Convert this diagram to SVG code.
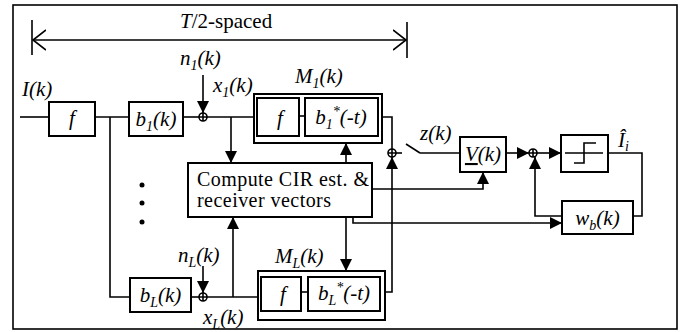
<svg xmlns="http://www.w3.org/2000/svg" width="683" height="332" viewBox="0 0 683 332">
<style>
.bx{fill:#fff;stroke:#000;stroke-width:2}
.ln{fill:none;stroke:#000;stroke-width:1.6}
.t{font-family:"Liberation Serif","Times New Roman",serif;font-size:21px;fill:#000}
.i{font-style:italic}
.sub{font-size:14px}
</style>
<defs>
<marker id="a" viewBox="0 0 12 12" refX="12" refY="6" markerWidth="12" markerHeight="12" markerUnits="userSpaceOnUse" orient="auto">
<path d="M0,0 L12,6 L0,12 Z" fill="#000"/>
</marker>
<marker id="o" viewBox="0 0 14 22" refX="13" refY="11" markerWidth="14" markerHeight="22" markerUnits="userSpaceOnUse" orient="auto-start-reverse">
<path d="M0,1 L13,11 L0,21" fill="none" stroke="#000" stroke-width="1.6"/>
</marker>
</defs>
<rect x="13" y="5" width="664" height="324" fill="#fff" stroke="#000" stroke-width="1.6"/>

<g id="dimension">
<line class="ln" x1="32" y1="20" x2="32" y2="55"/>
<line class="ln" x1="407" y1="22" x2="407" y2="58"/>
<line class="ln" x1="33" y1="40" x2="406" y2="40" marker-start="url(#o)" marker-end="url(#o)"/>
<text class="t" x="180" y="28"><tspan class="i">T</tspan>/2-spaced</text>
</g>

<g id="connectors">
<line class="ln" x1="20" y1="117" x2="49" y2="117"/>
<line class="ln" x1="95" y1="117" x2="129" y2="117"/>
<line class="ln" x1="183" y1="117" x2="199" y2="117"/>
<line class="ln" x1="203" y1="75" x2="203" y2="113" marker-end="url(#a)"/>
<line class="ln" x1="207" y1="117" x2="257" y2="117"/>
<line class="ln" x1="231" y1="117" x2="231" y2="163" marker-end="url(#a)"/>
<polyline class="ln" points="110,117 110,297 130,297"/>
<line class="ln" x1="191" y1="297" x2="199" y2="297"/>
<line class="ln" x1="203" y1="266" x2="203" y2="293" marker-end="url(#a)"/>
<line class="ln" x1="207" y1="297" x2="261" y2="297"/>
<line class="ln" x1="233" y1="297" x2="233" y2="217" marker-end="url(#a)"/>
<line class="ln" x1="346" y1="163" x2="346" y2="143" marker-end="url(#a)"/>
<line class="ln" x1="346" y1="217" x2="346" y2="271" marker-end="url(#a)"/>
<polyline class="ln" points="378,117 392,117 392,149"/>
<polyline class="ln" points="380,292 392,292 392,157" marker-end="url(#a)"/>
<line class="ln" x1="396" y1="153" x2="402" y2="153"/>
<line class="ln" x1="406" y1="144" x2="420" y2="153"/>
<line class="ln" x1="420" y1="153" x2="460" y2="153"/>
<polyline class="ln" points="372,189 483,189 483,172" marker-end="url(#a)"/>
<polyline class="ln" points="353,217 353,223 562,223" marker-end="url(#a)"/>
<line class="ln" x1="506" y1="153" x2="529" y2="153" marker-end="url(#a)"/>
<line class="ln" x1="537" y1="153" x2="561" y2="153" marker-end="url(#a)"/>
<polyline class="ln" points="608,153 642,153 642,216 633,216"/>
<polyline class="ln" points="562,216 535,216 535,157" marker-end="url(#a)"/>
</g>

<g id="input-label">
<text class="t i" x="22" y="96">I(k)</text>
</g>

<g id="f-box">
<rect class="bx" x="49" y="102" width="46" height="34"/>
<text class="t i" x="72" y="125" text-anchor="middle">f</text>
</g>

<g id="b1-box">
<rect class="bx" x="129" y="102" width="54" height="34"/>
<text class="t i" x="156" y="126" text-anchor="middle">b<tspan class="sub" dy="5">1</tspan><tspan dy="-5">(k)</tspan></text>
</g>

<g id="bL-box">
<rect class="bx" x="130" y="278" width="61" height="34"/>
<text class="t i" x="160.5" y="302" text-anchor="middle">b<tspan class="sub" dy="5">L</tspan><tspan dy="-5">(k)</tspan></text>
</g>

<g id="sum1">
<circle cx="203" cy="117" r="4" fill="#fff" stroke="#000" stroke-width="1.6"/>
<path class="ln" d="M199,117 H207 M203,113 V121"/>
<text class="t i" x="180" y="65">n<tspan class="sub" dy="5">1</tspan><tspan dy="-5">(k)</tspan></text>
<text class="t i" x="213" y="92">x<tspan class="sub" dy="5">1</tspan><tspan dy="-5">(k)</tspan></text>
</g>

<g id="sumL">
<circle cx="203" cy="297" r="4" fill="#fff" stroke="#000" stroke-width="1.6"/>
<path class="ln" d="M199,297 H207 M203,293 V301"/>
<text class="t i" x="178" y="262">n<tspan class="sub" dy="5">L</tspan><tspan dy="-5">(k)</tspan></text>
<text class="t i" x="203" y="324">x<tspan class="sub" dy="5">L</tspan><tspan dy="-5">(k)</tspan></text>
</g>

<g id="dots">
<circle cx="142" cy="185" r="2.5"/>
<circle cx="142" cy="203" r="2.5"/>
<circle cx="142" cy="222" r="2.5"/>
</g>

<g id="M1">
<rect class="bx" x="254" y="94" width="128" height="49"/>
<rect class="bx" x="257" y="98" width="42" height="38"/>
<rect class="bx" x="305" y="98" width="73" height="38"/>
<line class="ln" x1="299" y1="116" x2="305" y2="116"/>
<text class="t i" x="280" y="125" text-anchor="middle">f</text>
<text class="t i" x="341" y="124" text-anchor="middle">b<tspan class="sub" dy="5">1</tspan><tspan class="sub" dy="-13">*</tspan><tspan dy="8">(-t)</tspan></text>
<text class="t i" x="295" y="83">M<tspan class="sub" dy="5">1</tspan><tspan dy="-5">(k)</tspan></text>
</g>

<g id="ML">
<rect class="bx" x="258" y="271" width="127" height="49"/>
<rect class="bx" x="261" y="277" width="40" height="34"/>
<rect class="bx" x="308" y="277" width="72" height="34"/>
<line class="ln" x1="301" y1="292" x2="308" y2="292"/>
<text class="t i" x="283" y="301" text-anchor="middle">f</text>
<text class="t i" x="344" y="300" text-anchor="middle">b<tspan class="sub" dy="5">L</tspan><tspan class="sub" dy="-13">*</tspan><tspan dy="8">(-t)</tspan></text>
<text class="t i" x="275" y="263">M<tspan class="sub" dy="5">L</tspan><tspan dy="-5">(k)</tspan></text>
</g>

<g id="compute">
<rect class="bx" x="188" y="163" width="184" height="54"/>
<text class="t" x="197" y="186" style="font-size:20px" textLength="172">Compute CIR est. &amp;</text>
<text class="t" x="197" y="207" style="font-size:20px" textLength="134">receiver vectors</text>
</g>

<g id="sum2">
<circle cx="392" cy="153" r="4" fill="#fff" stroke="#000" stroke-width="1.6"/>
<path class="ln" d="M388,153 H396 M392,149 V157"/>
<text class="t i" x="420" y="140">z(k)</text>
</g>

<g id="V-box">
<rect class="bx" x="460" y="137" width="46" height="35"/>
<text class="t i" x="483" y="161" text-anchor="middle"><tspan text-decoration="underline">V</tspan>(k)</text>
</g>

<g id="sum3">
<circle cx="533" cy="153" r="4" fill="#fff" stroke="#000" stroke-width="1.6"/>
<path class="ln" d="M529,153 H537 M533,149 V157"/>
</g>

<g id="decision">
<rect class="bx" x="561" y="135" width="47" height="37"/>
<path class="ln" d="M565,153 H603 M574,163 H584 V143 H596"/>
<text class="t i" x="618" y="147">Î<tspan class="sub" dy="4">i</tspan></text>
</g>

<g id="wb-box">
<rect class="bx" x="562" y="201" width="71" height="33"/>
<text class="t i" x="597.5" y="225" text-anchor="middle">w<tspan class="sub" dy="5">b</tspan><tspan dy="-5">(k)</tspan></text>
</g>
</svg>
